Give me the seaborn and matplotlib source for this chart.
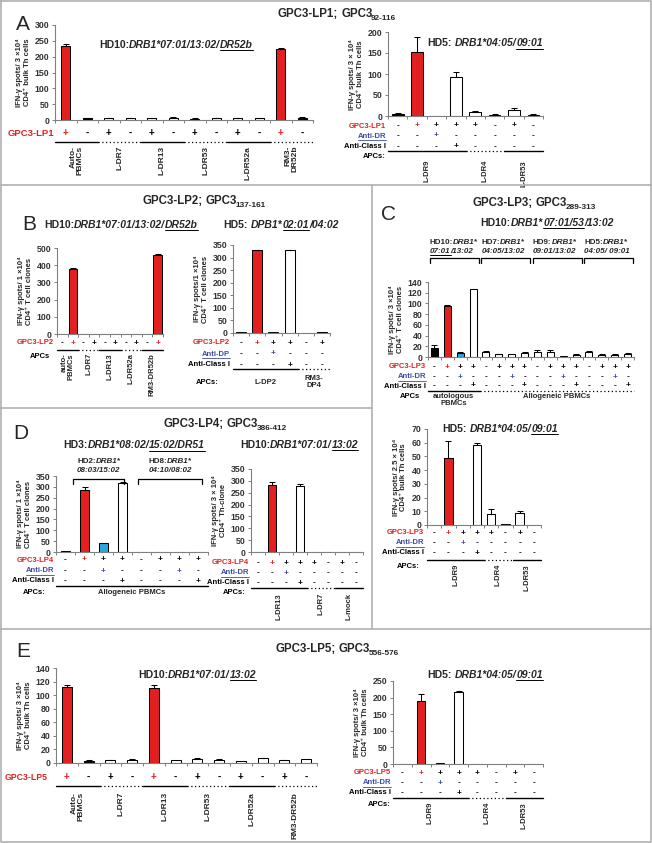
import numpy as np
import pandas as pd
import seaborn as sns
import matplotlib.pyplot as plt
from matplotlib import transforms
from matplotlib.lines import Line2D

# values (IFN-gamma spots)
A1_vals = [235, 5, 5, 6, 6, 7, 4, 5, 5, 6, 225, 6]
A1_errs = [5, 2, 1, 1, 1, 1, 1, 1, 1, 1, 2, 2]
A1_fill = "rkwwwwwwwwrk"
A1_pep = "+-+-+-+-+-+-"
A1_gsize = [2, 2, 2, 2, 2, 2]
A1_apcs = ["Auto-\nPBMCs", "L-DR7", "L-DR13", "L-DR53", "L-DR52a", "RM3-\nDR52b"]

A2_vals = [5, 153, 1, 93, 10, 3, 14, 3]
A2_errs = [2, 35, 0, 12, 2, 1, 6, 1]
A2_fill = "krbwwwww"
A2_pep = "-++++-+-"
A2_dr = "--+-----"
A2_cls = "---+----"
A2_gsize = [4, 2, 2]
A2_apcs = ["L-DR9", "L-DR4", "L-DR53"]

B1_vals = [0, 380, 0, 0, 0, 0, 0, 0, 0, 458]
B1_errs = [0, 2, 0, 0, 0, 0, 0, 0, 0, 8]
B1_fill = "krwwwwwwkr"
B1_pep = "-+-+-+-+-+"
B1_gsize = [2, 2, 2, 2, 2]
B1_apcs = ["auto-\nPBMCs", "L-DR7", "L-DR13", "L-DR52a", "RM3-DR52b"]

B2_vals = [2, 330, 2, 330, 1, 2]
B2_errs = [0, 2, 0, 2, 0, 0]
B2_fill = "wrwwww"
B2_pep = "-+++-+"
B2_dp = "--+---"
B2_cls = "---+--"
B2_gsize = [4, 2]
B2_apcs = ["L-DP2", "RM3-\nDP4"]

C1_vals = [17, 95, 7, 127, 9, 5, 5, 8, 10, 10, 2, 4, 9, 4, 4, 6]
C1_errs = [5, 3, 3, 0, 3, 1, 0, 1, 4, 4, 0, 1, 2, 1, 1, 2]
C1_fill = "krbw" + "w" * 12
C1_pep = "-+++" * 4
C1_dr = "--+-" * 4
C1_cls = "---+" * 4
C1_gsize = [4, 12]
C1_apcs = ["autologous\nPBMCs", "Allogeneic PBMCs"]

C2_vals = [0, 49, 0, 58, 8, 0.5, 9, 0]
C2_errs = [0, 12, 0, 2, 4, 0, 1, 0]
C2_fill = "wrbwwwww"
C2_pep = "-++++-+-"
C2_dr = "--+-----"
C2_cls = "---+----"
C2_gsize = [4, 2, 2]
C2_apcs = ["L-DR9", "L-DR4", "L-DR53"]

D1_vals = [3, 287, 40, 320, 0, 0, 0, 0]
D1_errs = [0, 12, 3, 3, 0, 0, 0, 0]
D1_fill = "wrbwwwww"
D1_pep = "-+++-+++"
D1_dr = "--+---+-"
D1_cls = "---+---+"
D1_gsize = [8]
D1_apcs = ["Allogeneic PBMCs"]

D2_vals = [1, 283, 1, 280, 1, 1, 1, 2]
D2_errs = [0, 12, 0, 8, 0, 0, 0, 0]
D2_fill = "wrwwwwww"
D2_pep = "-++++-+-"
D2_dr = "--+-----"
D2_cls = "---+----"
D2_gsize = [4, 2, 2]
D2_apcs = ["L-DR13", "L-DR7", "L-mock"]

E1_vals = [112, 3, 4, 5, 110, 4, 6, 5, 3, 7, 4, 6]
E1_errs = [3, 2, 1, 1, 5, 0, 1, 1, 0, 1, 1, 0]
E1_fill = "rkwwrwwwwwww"
E1_pep = "+-+-+-+-+-+-"
E1_gsize = [2, 2, 2, 2, 2, 2]
E1_apcs = ["Auto-\nPBMCs", "L-DR7", "L-DR13", "L-DR53", "L-DR52a", "RM3-DR52b"]

E2_vals = [0, 190, 2, 218, 0, 0, 0, 0]
E2_errs = [0, 20, 0, 2, 0, 0, 0, 0]
E2_fill = "wrwwwwww"
E2_pep = "-++++-+-"
E2_dr = "--+-----"
E2_cls = "---+----"
E2_gsize = [4, 2, 2]
E2_apcs = ["L-DR9", "L-DR4", "L-DR53"]

sns.set_theme(style="ticks")
plt.rcParams['font.family'] = ['Liberation Sans', 'DejaVu Sans']
plt.rcParams['font.weight'] = 'bold'

W, H = 652, 843
fig = plt.figure(figsize=(W / 100, H / 100), dpi=100)
fig.patch.set_facecolor('white')
PX = transforms.Affine2D().scale(1 / W, -1 / H).translate(0, 1) + fig.transFigure
RED, BLUE, CYAN, GREY = '#E3201F', '#3B4BA6', '#29A8DF', '#808080'
FILL = {'r': RED, 'k': 'black', 'w': 'white', 'b': CYAN}
REND = fig.canvas.get_renderer()


def bars(box, vals, errs, fill, ymax, ystep, ylabel, width=0.5):
    l, t, r, b = box
    ax = fig.add_axes([l / W, 1 - b / H, (r - l) / W, (b - t) / H])
    ids = [str(i) for i in range(len(vals))]
    df = pd.DataFrame({'id': ids, 'val': vals})
    sns.barplot(data=df, x='id', y='val', hue='id', order=ids, hue_order=ids,
                palette={i: FILL[c] for i, c in zip(ids, fill)}, legend=False,
                width=width, edgecolor='black', linewidth=0.75, saturation=1, ax=ax)
    n = len(vals)
    e = np.array(errs, float)
    m = e > 0
    ax.errorbar(np.arange(n)[m], np.array(vals, float)[m], yerr=[np.zeros(m.sum()), e[m]],
                fmt='none', ecolor='black', elinewidth=0.75, capsize=2, capthick=0.75)
    ax.set_xlim(-0.5, n - 0.5)
    ax.set_ylim(0, ymax)
    ax.set_yticks(np.arange(0, ymax + 1, ystep))
    ax.set_xticks(np.arange(n + 1) - 0.5)
    ax.set_xticklabels([])
    ax.set_xlabel('')
    ax.set_ylabel(ylabel, fontsize=5.5, fontweight='bold', labelpad=3, linespacing=1.1)
    ax.tick_params(axis='both', direction='out', length=2.5, width=0.7, color=GREY,
                   labelsize=6.3, labelcolor='#333333', pad=1.5)
    for s in ('top', 'right'):
        ax.spines[s].set_visible(False)
    for s in ('left', 'bottom'):
        ax.spines[s].set_color(GREY)
        ax.spines[s].set_linewidth(0.8)
    ax.patch.set_alpha(0)
    ax.box = box
    return ax


def label(x, y, s, color='black', ul=False, size=5.5):
    t = fig.text(x, y, s, transform=PX, ha='right', va='center', fontsize=size,
                 fontweight='bold', color=color)
    if ul:
        w = t.get_window_extent(REND).width
        fig.add_artist(Line2D([x - w, x], [y + 4, y + 4], transform=PX, color=color, lw=0.6))


def signs(ax, y, s, kind, fill=None, size=6):
    tr = transforms.blended_transform_factory(ax.transData, PX)
    for i, c in enumerate(s):
        col = 'black'
        if c == '+' and kind == 'pep' and fill[i] == 'r':
            col = RED
        if c == '+' and kind == 'dr':
            col = BLUE
        ax.text(i, y, c, transform=tr, ha='center', va='center', fontsize=size,
                fontweight='bold', color=col)


def glines(ax, y, sizes, styles):
    tr = transforms.blended_transform_factory(ax.transData, PX)
    start = 0
    for n, st in zip(sizes, styles):
        ls = '-' if st == 's' else (0, (1, 2))
        fig.add_artist(Line2D([start - 0.5, start + n - 0.5], [y, y], transform=tr,
                              color='black', lw=1.0 if st == 's' else 0.9, ls=ls))
        start += n


def glabels(ax, y, sizes, names, rot=True, va='top', size=5.5):
    tr = transforms.blended_transform_factory(ax.transData, PX)
    start = 0
    for n, name in zip(sizes, names):
        ax.text(start + (n - 1) / 2, y, name, transform=tr, rotation=90 if rot else 0,
                ha='center', va=va, fontsize=size, fontweight='bold',
                multialignment='right' if rot else 'center', linespacing=1.0)
        start += n


def rich(x, y, parts, size, ha='left'):
    items = []
    for p in parts:
        if isinstance(p, (int, float)):
            items.append((None, p, ''))
            continue
        s, fmt = p if isinstance(p, tuple) else (p, '')
        fs = size * 0.72 if '_' in fmt else size
        t = fig.text(0, y, s, transform=PX, fontsize=fs, fontweight='bold',
                     fontstyle='italic' if 'i' in fmt else 'normal', va='baseline', ha='left')
        items.append((t, t.get_window_extent(REND).width, fmt))
    total = sum(w for _, w, _ in items)
    cx = x - total / 2 if ha == 'center' else x
    for t, w, fmt in items:
        if t is not None:
            t.set_position((cx, y + (3 if '_' in fmt else 0)))
            if 'u' in fmt:
                fig.add_artist(Line2D([cx, cx + w], [y + 2, y + 2], transform=PX,
                                      color='black', lw=0.7))
        cx += w


def title(x, y, pep, sub):
    rich(x, y, [pep + ";", 3, "GPC3", -1.6, (sub, '_')], 8.3, 'center')


def px_of(ax, xd):
    l, t, r, b = ax.box
    n = len(ax.patches)
    return l + (xd + 0.5) * (r - l) / n


def bracket(x0, x1, y):
    fig.add_artist(Line2D([x0, x0, x1, x1], [y + 5, y, y, y + 5], transform=PX,
                          color='black', lw=0.9))


def letter(x, y, s):
    fig.text(x, y, s, transform=PX, fontsize=15, fontweight='normal', va='baseline')


YL1 = "IFN-γ spots/ 3 ×10⁴\nCD4⁺ bulk Th cells"
SUB = 7.5

# ---------------- panel A ----------------
letter(16, 30, 'A')
title(337, 17, "GPC3-LP1", "92-116")
rich(176, 47.5, ["HD10:", ("DRB1*07:01/13:02/", 'i'), ("DR52b", 'iu')], SUB, 'center')
ax = bars((55, 25, 313, 120), A1_vals, A1_errs, A1_fill, 300, 50, YL1, 0.4)
signs(ax, 133, A1_pep, 'pep', A1_fill, 7)
label(54, 133, 'GPC3-LP1', RED, size=6.8)
glines(ax, 142, A1_gsize, 'sdsdsd')
glabels(ax, 146, A1_gsize, A1_apcs, size=6)

rich(485, 46.5, ["HD5:", 3, ("DRB1*04:05/", 'i'), ("09:01", 'iu')], SUB, 'center')
ax = bars((388, 32, 543, 116), A2_vals, A2_errs, A2_fill, 200, 50,
          "IFN-γ spots/ 3 × 10⁴\nCD4⁺ bulk Th cells", 0.6)
signs(ax, 126, A2_pep, 'pep', A2_fill)
label(386, 126, 'GPC3-LP1', RED)
signs(ax, 136, A2_dr, 'dr')
label(386, 136, 'Anti-DR', BLUE, ul=True)
signs(ax, 146.5, A2_cls, 'cls')
label(386, 146.5, 'Anti-Class I')
glines(ax, 151, A2_gsize, 'sds')
label(386, 157, 'APCs:')
glabels(ax, 160, A2_gsize, A2_apcs)

# ---------------- panel B ----------------
letter(22, 230, 'B')
title(204, 204, "GPC3-LP2", "137-161")
rich(121, 227.5, ["HD10:", ("DRB1*07:01/13:02/", 'i'), ("DR52b", 'iu')], SUB, 'center')
ax = bars((57, 248, 163, 334), B1_vals, B1_errs, B1_fill, 500, 100,
          "IFN-γ spots/ 1 ×10⁴\nCD4⁺ T cell clones", 0.8)
signs(ax, 343, B1_pep, 'pep', B1_fill)
label(54, 343, 'GPC3-LP2', RED)
glines(ax, 350, B1_gsize, 'sdsds')
label(50, 357, 'APCs')
glabels(ax, 353, B1_gsize, B1_apcs)

rich(281, 227.5, ["HD5:", 3, ("DPB1*", 'i'), ("02:01", 'iu'), ("/04:02", 'i')], SUB, 'center')
ax = bars((233, 245, 330, 333), B2_vals, B2_errs, B2_fill, 350, 50,
          "IFN-γ spots/1 ×10⁴\nCD4⁺ T cell clones", 0.62)
signs(ax, 343, B2_pep, 'pep', B2_fill)
label(230, 343, 'GPC3-LP2', RED)
signs(ax, 354, B2_dp, 'dr')
label(230, 354, 'Anti-DP', BLUE, ul=True)
signs(ax, 365, B2_cls, 'cls')
label(230, 365, 'Anti-Class I')
glines(ax, 369, B2_gsize, 'sd')
label(219, 382, 'APCs:')
glabels(ax, 382, B2_gsize, B2_apcs, rot=False, va='center')

# ---------------- panel C ----------------
letter(381, 220, 'C')
title(534, 206, "GPC3-LP3", "289-313")
rich(547, 225.5, ["HD10:", ("DRB1*", 'i'), ("07:01/53", 'iu'), ("/13:02", 'i')], SUB, 'center')
ax = bars((428, 282, 634, 357), C1_vals, C1_errs, C1_fill, 140, 20,
          "IFN-γ spots/ 3 ×10⁴\nCD4⁺ T cell clones", 0.55)
C_heads = [("HD10:", [("07:01", 'iu'), ("/13:02", 'i')]),
           ("HD7:", [("04:05/13:02", 'i')]),
           ("HD9:", [("09:01/13:02", 'i')]),
           ("HD5:", [("04:05/ 09:01", 'i')])]
for k, (hd, second) in enumerate(C_heads):
    x0, x1 = px_of(ax, 4 * k - 0.35), px_of(ax, 4 * k + 3.45)
    bracket(x0, x1, 258)
    rich(x0, 244.5, [hd, ("DRB1*", 'i')], 5.8)
    rich(x0, 253, second, 5.8)
signs(ax, 367, C1_pep, 'pep', C1_fill)
label(426, 367, 'GPC3-LP3', RED)
signs(ax, 377, C1_dr, 'dr')
label(426, 377, 'Anti-DR', BLUE, ul=True)
signs(ax, 386, C1_cls, 'cls')
label(426, 386, 'Anti-Class I')
glines(ax, 390.5, C1_gsize, 'sd')
label(420, 396, 'APCs')
glabels(ax, 393, C1_gsize, C1_apcs, rot=False)

rich(500, 431.5, ["HD5:", 3, ("DRB1*04:05/", 'i'), ("09:01", 'iu')], SUB, 'center')
ax = bars((427, 429, 541, 525), C2_vals, C2_errs, C2_fill, 70, 10,
          "IFN-γ spots/ 2.5 × 10⁴\nCD4⁺ bulk Th cells", 0.6)
signs(ax, 533, C2_pep, 'pep', C2_fill)
label(424, 533, 'GPC3-LP3', RED)
signs(ax, 543, C2_dr, 'dr')
label(424, 543, 'Anti-DR', BLUE, ul=True)
signs(ax, 553, C2_cls, 'cls')
label(424, 553, 'Anti-Class I')
glines(ax, 559.5, C2_gsize, 'sds')
label(420, 566, 'APCs:')
glabels(ax, 564, C2_gsize, C2_apcs)

# ---------------- panel D ----------------
letter(13, 439, 'D')
title(225, 427, "GPC3-LP4", "386-412")
rich(134, 448.5, ["HD3:", ("DRB1*08:02/", 'i'), ("15:02/DR51", 'iu')], SUB, 'center')
ax = bars((56, 476, 208, 552), D1_vals, D1_errs, D1_fill, 350, 50,
          "IFN-γ spots/ 1 ×10⁴\nCD4⁺ T cell clones", 0.45)
D_heads = [((0.4, 3.1), "HD2:", "08:03/15:02"), ((3.8, 7.2), "HD8:", "04:10/08:02")]
for (a, b), hd, second in D_heads:
    x0, x1 = px_of(ax, a), px_of(ax, b)
    bracket(x0, x1, 479)
    rich((x0 + x1) / 2, 463, [hd, ("DRB1*", 'i')], 5.8, 'center')
    rich((x0 + x1) / 2, 472, [(second, 'i')], 5.8, 'center')
signs(ax, 560, D1_pep, 'pep', D1_fill)
label(54, 560, 'GPC3-LP4', RED)
signs(ax, 571, D1_dr, 'dr')
label(54, 571, 'Anti-DR', BLUE, ul=True)
signs(ax, 581, D1_cls, 'cls')
label(54, 581, 'Anti-Class I')
glines(ax, 586, D1_gsize, 's')
label(46, 592, 'APCs:')
glabels(ax, 592, D1_gsize, D1_apcs, rot=False, va='center')

rich(299, 447.5, ["HD10:", ("DRB1*07:01/", 'i'), ("13:02", 'iu')], SUB, 'center')
ax = bars((251, 469, 363, 552), D2_vals, D2_errs, D2_fill, 350, 50,
          "IFN-γ spots/ 3 × 10⁴\nCD4⁺ Th-clone", 0.52)
signs(ax, 563, D2_pep, 'pep', D2_fill)
label(249, 563, 'GPC3-LP4', RED)
signs(ax, 573, D2_dr, 'dr')
label(249, 573, 'Anti-DR', BLUE, ul=True)
signs(ax, 583, D2_cls, 'cls')
label(249, 583, 'Anti-Class I')
glines(ax, 588, D2_gsize, 'sds')
label(246, 593, 'APCs:')
glabels(ax, 593, D2_gsize, D2_apcs)

# ---------------- panel E ----------------
letter(16, 657, 'E')
title(337, 652, "GPC3-LP5", "556-576")
rich(197, 677.5, ["HD10:", ("DRB1*07:01/", 'i'), ("13:02", 'iu')], SUB, 'center')
ax = bars((56, 668, 317, 763), E1_vals, E1_errs, E1_fill, 140, 20, YL1, 0.46)
signs(ax, 777, E1_pep, 'pep', E1_fill, 7)
label(48, 777, 'GPC3-LP5', RED, size=6.3)
glines(ax, 786, E1_gsize, 'sdsdsd')
glabels(ax, 792, E1_gsize, E1_apcs, size=6)

rich(485, 677.5, ["HD5:", 3, ("DRB1*04:05/", 'i'), ("09:01", 'iu')], SUB, 'center')
ax = bars((393, 681, 543, 764), E2_vals, E2_errs, E2_fill, 250, 50, YL1, 0.45)
signs(ax, 773, E2_pep, 'pep', E2_fill)
label(391, 773, 'GPC3-LP5', RED)
signs(ax, 783, E2_dr, 'dr')
label(391, 783, 'Anti-DR', BLUE, ul=True)
signs(ax, 793, E2_cls, 'cls')
label(391, 793, 'Anti-Class I')
glines(ax, 798, E2_gsize, 'sds')
label(391, 804, 'APCs:')
glabels(ax, 802, E2_gsize, E2_apcs)

# panel frames
FR = '#b0b0b0'
for xs, ys in [([1, 651, 651, 1, 1], [1, 1, 842, 842, 1]),
               ([0, 652], [185, 185]), ([0, 652], [629, 629]),
               ([0, 372], [408, 408]), ([372, 372], [185, 629])]:
    fig.add_artist(Line2D(xs, ys, transform=PX, color=FR, lw=1.2))

fig.savefig('out.png', dpi=100, facecolor='white')
